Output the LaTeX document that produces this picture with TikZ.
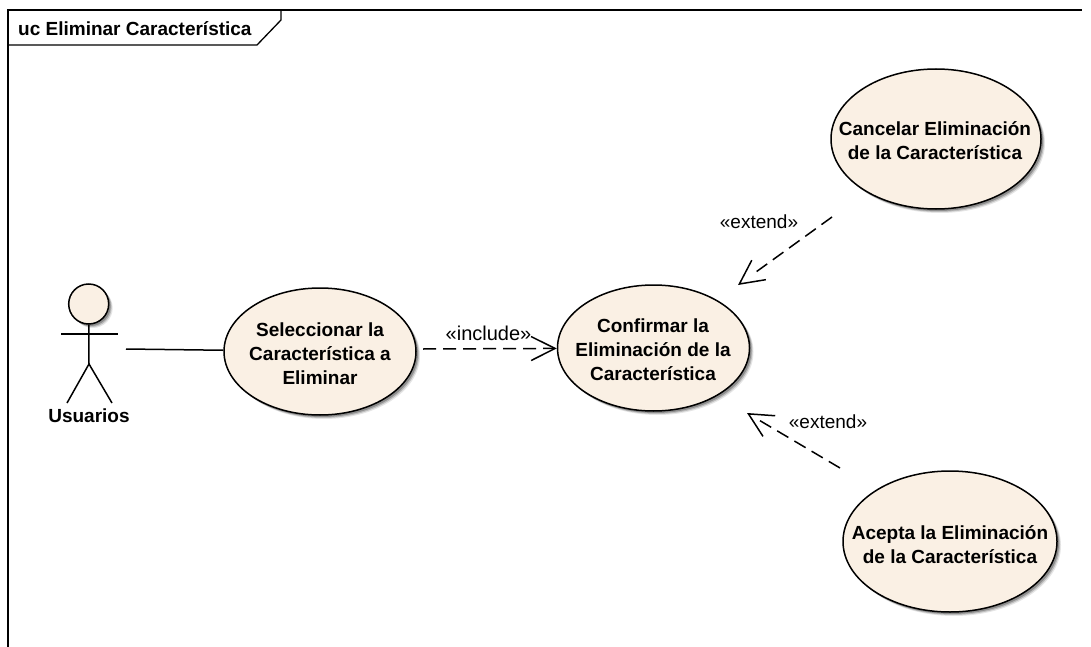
\documentclass[tikz,border=0pt]{standalone}
\usepackage{fontspec}
\setmainfont{Liberation Sans}
\usetikzlibrary{shapes.geometric,arrows.meta,shadows,calc}
\definecolor{ucfill}{RGB}{250,240,228}
\tikzset{
  x=1pt,y=-1pt,
  ln/.style={line width=1.5pt,black},
  softshadow/.style={
    drop shadow={shadow xshift=4pt,shadow yshift=-4pt,fill=black,opacity=.1},
    drop shadow={shadow xshift=3pt,shadow yshift=-3pt,fill=black,opacity=.18},
    drop shadow={shadow xshift=2pt,shadow yshift=-2pt,fill=black,opacity=.25}},
  usecase/.style={ellipse,draw,ln,fill=ucfill,softshadow,inner sep=0pt},
  uctext/.style={inner sep=0pt,align=center,font=\fontsize{19}{24}\selectfont\bfseries},
  head/.style={circle,draw,ln,fill=ucfill,softshadow,inner sep=0pt,minimum size=40pt},
  boldlabel/.style={inner sep=0pt,font=\fontsize{19}{22}\selectfont\bfseries},
  stereo/.style={inner sep=0pt,font=\fontsize{19}{22}\selectfont},
  openhead/.style={-{Straight Barb[length=24pt,width=24pt,line width=1.5pt]}},
  dep/.style={ln,dash pattern=on 13pt off 7pt,openhead},
  ext/.style={ln,dash pattern=on 13pt off 7pt on 13pt off 7pt on 13pt off 7pt on 13pt off 7pt on 13pt off 32pt,openhead}
}
\begin{document}
\begin{tikzpicture}
\useasboundingbox (0,0) rectangle (1091,647);
% frame
\draw[line width=1.3pt] (8,647) -- (8,10) -- (1082,10);
\coordinate (tabA) at (8,45);
\coordinate (tabB) at (257,45);
\coordinate (tabC) at (281,20);
\coordinate (tabD) at (281,10);
\draw[line width=1.3pt] (tabA) -- (tabB) -- (tabC) -- (tabD);
\node[boldlabel,anchor=west] (title) at (18,29) {uc Eliminar Característica};
% actor
\node[head] (hd) at (88.7,304) {};
\coordinate (hip) at (89,364);
\coordinate (armL) at (61,334);
\coordinate (armR) at (118,334);
\coordinate (legL) at (67,403);
\coordinate (legR) at (112,403);
\draw[ln] (hd) -- (hip);
\draw[ln] (armL) -- (armR);
\draw[ln] (legL) -- (hip) -- (legR);
\node[boldlabel] (usr) at (89,416) {Usuarios};
% use cases
\node[usecase,minimum width=192pt,minimum height=127pt] (e1) at (320,351.5) {};
\node[uctext] (e1t) at (320,353.5) {Seleccionar la\\Característica a\\Eliminar};
\node[usecase,minimum width=192pt,minimum height=126pt] (e2) at (653.5,348) {};
\node[uctext] (e2t) at (653,350) {Confirmar la\\Eliminación de la\\Característica};
\node[usecase,minimum width=210pt,minimum height=140pt] (e3) at (936,139) {};
\node[uctext] (e3t) at (935,140.5) {Cancelar Eliminación\\de la Característica};
\node[usecase,minimum width=214pt,minimum height=141pt] (e4) at (950,541.5) {};
\node[uctext] (e4t) at (950,544.5) {Acepta la Eliminación\\de la Característica};
% connectors
\coordinate (hand) at (126,349);
\draw[ln] (hand) -- (e1);
\coordinate (s1) at (423,349);
\draw[dep] (s1) -- (e2);
\coordinate (t3) at (738,285);
\coordinate (s3) at (832,217);
\draw[ext] (s3) -- (t3);
\coordinate (t4) at (747,413);
\coordinate (s4) at (840,468);
\draw[ext] (s4) -- (t4);
% labels
\node[stereo,font=\fontsize{20}{22}\selectfont] (l1) at (488.5,333) {«include»};
\node[stereo] (l2) at (759,222) {«extend»};
\node[stereo] (l3) at (828,422) {«extend»};
\end{tikzpicture}
\end{document}
